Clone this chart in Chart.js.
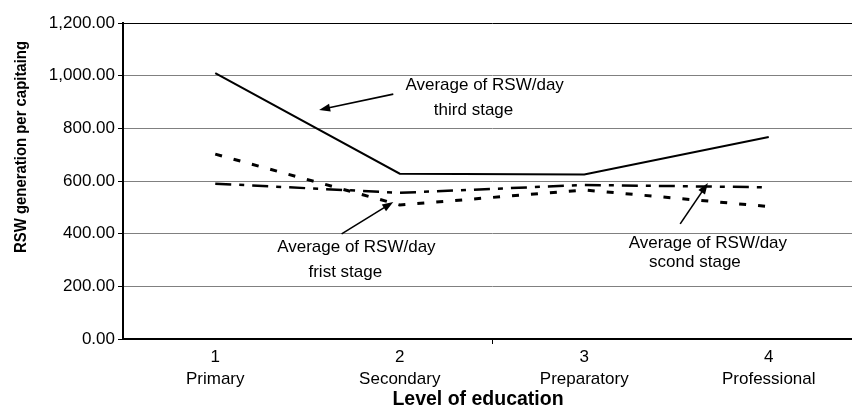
<!DOCTYPE html>
<html>
<head>
<meta charset="utf-8">
<script src="https://cdn.jsdelivr.net/npm/chart.js@4"></script>
<style>
  body { margin: 0; overflow: hidden; background: #fff; }
  #wrap { width: 870px; height: 412px; }
</style>
</head>
<body>
<div id="wrap"><canvas id="rswChart"></canvas></div>
<script>
const categories = [['1', 'Primary'], ['2', 'Secondary'], ['3', 'Preparatory'], ['4', 'Professional']];
const firstStage = [702, 509, 566, 503];
const secondStage = [590, 555, 585, 576];
const thirdStage = [1010, 628, 625, 767];
const yMin = 0, yMax = 1200, yStep = 200;
const yTitle = 'RSW generation per capitaing';
const xTitle = 'Level of education';

// callouts, positions in data units (category index, value)
const callouts = [
    { lines: ['Average of RSW/day', 'third stage'], text: [[1.46, 965], [1.40, 870]], from: [0.965, 930], to: [0.563, 870] },
    { lines: ['Average of RSW/day', 'frist stage'], text: [[0.765, 349], [0.705, 254]], from: [0.685, 399], to: [0.965, 520] },
    { lines: ['Average of RSW/day', 'scond stage'], text: [[2.67, 365], [2.60, 292]], from: [2.52, 437], to: [2.67, 592] }
];

const FONT = "'Liberation Sans', Arial, sans-serif";
const fmt = new Intl.NumberFormat('en-US', { minimumFractionDigits: 2, maximumFractionDigits: 2 });

const calloutPlugin = {
    id: 'callouts',
    afterDraw(chart) {
        const ctx = chart.ctx;
        const xs = chart.scales.x, ys = chart.scales.y;
        ctx.save();
        ctx.fillStyle = '#000';
        ctx.strokeStyle = '#000';
        ctx.font = '17px ' + FONT;
        ctx.textAlign = 'center';
        ctx.textBaseline = 'middle';
        callouts.forEach(c => {
            c.lines.forEach((t, i) => {
                ctx.fillText(t, xs.getPixelForValue(c.text[i][0]), ys.getPixelForValue(c.text[i][1]));
            });
            const x1 = xs.getPixelForValue(c.from[0]), y1 = ys.getPixelForValue(c.from[1]);
            const x2 = xs.getPixelForValue(c.to[0]), y2 = ys.getPixelForValue(c.to[1]);
            const a = Math.atan2(y2 - y1, x2 - x1);
            const hl = 11, hw = 4;
            ctx.lineWidth = 1.6;
            ctx.beginPath();
            ctx.moveTo(x1, y1);
            ctx.lineTo(x2 - Math.cos(a) * hl * 0.8, y2 - Math.sin(a) * hl * 0.8);
            ctx.stroke();
            ctx.beginPath();
            ctx.moveTo(x2, y2);
            ctx.lineTo(x2 - Math.cos(a) * hl - Math.sin(a) * hw, y2 - Math.sin(a) * hl + Math.cos(a) * hw);
            ctx.lineTo(x2 - Math.cos(a) * hl + Math.sin(a) * hw, y2 - Math.sin(a) * hl - Math.cos(a) * hw);
            ctx.closePath();
            ctx.fill();
        });

        // axis titles
        ctx.font = 'bold 19.5px ' + FONT;
        ctx.fillText(xTitle, 478, 400);
        ctx.translate(21, 147);
        ctx.rotate(-Math.PI / 2);
        ctx.font = 'bold 17px ' + FONT;
        ctx.fillText(yTitle, 0, 0, 212);
        ctx.restore();
    }
};

new Chart(document.getElementById('rswChart'), {
    type: 'line',
    data: {
        labels: categories,
        datasets: [
            {
                label: 'Average of RSW/day first stage',
                data: firstStage,
                borderColor: '#000',
                borderWidth: 3,
                borderDash: [7, 12],
                pointRadius: 0,
                tension: 0
            },
            {
                label: 'Average of RSW/day second stage',
                data: secondStage,
                borderColor: '#000',
                borderWidth: 2.5,
                borderDash: [16, 8, 5, 8],
                pointRadius: 0,
                tension: 0
            },
            {
                label: 'Average of RSW/day third stage',
                data: thirdStage,
                borderColor: '#000',
                borderWidth: 2,
                pointRadius: 0,
                tension: 0
            }
        ]
    },
    options: {
        responsive: true,
        maintainAspectRatio: false,
        animation: false,
        devicePixelRatio: 1,
        layout: { padding: { left: 0, top: 23, right: 9, bottom: 0 } },
        plugins: {
            legend: { display: false },
            tooltip: { enabled: false }
        },
        scales: {
            x: {
                offset: true,
                afterFit(scale) { scale.height = 73; },
                border: { display: true, color: '#000', width: 2 },
                grid: {
                    offset: true,
                    drawOnChartArea: false,
                    drawTicks: true,
                    tickLength: 5,
                    color: ctx => ctx.index === 2 ? '#000' : 'rgba(0,0,0,0)'
                },
                ticks: {
                    color: '#000',
                    padding: 3,
                    maxRotation: 0,
                    font: { family: FONT, size: 17, lineHeight: 1.25 }
                }
            },
            y: {
                min: yMin,
                max: yMax,
                afterFit(scale) { scale.width = 123; },
                border: { display: true, color: '#000', width: 2 },
                grid: {
                    color: ctx => (ctx.tick && ctx.tick.value === yMax) ? '#000' : '#808080',
                    lineWidth: 1,
                    tickLength: 5,
                    tickColor: '#000'
                },
                ticks: {
                    stepSize: yStep,
                    color: '#000',
                    padding: 3,
                    font: { family: FONT, size: 17 },
                    callback: v => fmt.format(v)
                }
            }
        }
    },
    plugins: [calloutPlugin]
});
</script>
</body>
</html>
